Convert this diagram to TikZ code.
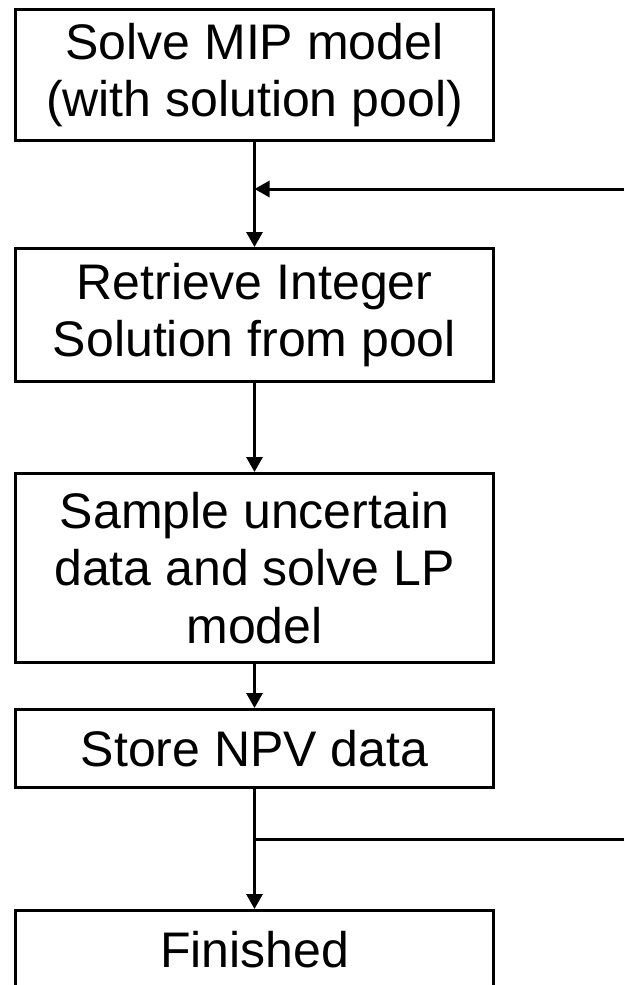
\documentclass[tikz,border=0pt]{standalone}
\usepackage{fontspec}
\setmainfont{Liberation Sans}
\usetikzlibrary{positioning, arrows.meta}

\begin{document}
\begin{tikzpicture}[x=1pt, y=-1pt, line width=3pt, >={Triangle[length=15pt, width=16pt]},
    box/.style={draw, rectangle, align=center, minimum width=478pt, inner sep=0pt,
                font=\fontsize{50}{57.5}\selectfont}]
   \useasboundingbox (0,0) rectangle (624,985);

   \node[box, minimum height=131pt] (solve) at (254.5,75) {Solve MIP model\\(with solution pool)};
   \node[box, minimum height=133pt] (retrieve) [below=105pt of solve] {Retrieve Integer\\Solution from pool};
   \node[box, minimum height=189pt] (sample) [below=89pt of retrieve] {Sample uncertain\\data and solve LP\\model};
   \node[box, minimum height=78pt] (store) [below=44pt of sample] {Store NPV data};
   \node[box, minimum height=78pt] (finished) [below=120pt of store] {Finished};

   \coordinate (loopback) at (624,189);
   \coordinate (loopout) at (624,839);

    \path[->]
    (solve) edge (retrieve)
    (retrieve) edge (sample)
    (sample) edge (store)
    (store) edge (finished);

    \draw[->] (loopback) -- (loopback -| solve.south);
    \draw (loopout) -- (loopout -| store.south);
\end{tikzpicture}
\end{document}
